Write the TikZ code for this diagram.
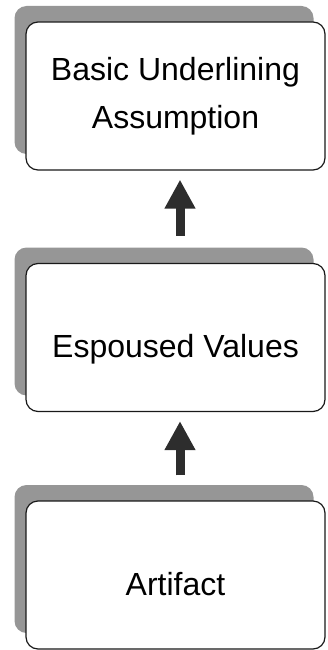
\documentclass[tikz,border=0pt]{standalone}
\usepackage{fontspec}
\setmainfont{Liberation Sans}
\usetikzlibrary{arrows.meta,shadows}

\begin{document}
\begin{tikzpicture}[x=1pt,y=1pt,yscale=-1,xscale=1,
  level/.style={draw={rgb, 255:red, 25; green, 25; blue, 25}, line width=1.2pt, rounded corners=12pt, fill=white, minimum width=299pt, minimum height=148pt, inner sep=0pt, align=center, font=\fontsize{32}{48}\selectfont, general shadow={fill={rgb, 255:red, 150; green, 150; blue, 150}, shadow xshift=-11.5pt, shadow yshift=16pt}},
  lowtext/.style={text height=40pt, text depth=0pt},
  uparrow/.style={draw={rgb, 255:red, 45; green, 45; blue, 45}, line width=9pt, -{Triangle[width=29pt 0,length=29pt 0]}}]
%set diagram left start at 0, and has height of 650
\useasboundingbox (0,0) rectangle (327,650);

%Shape: Rounded Rect [id:top]
\node [level] (basic) at (175.5,96) {Basic Underlining\\Assumption};
%Shape: Rounded Rect [id:middle]
\node [level, lowtext] (espoused) at (175.5,337.5) {Espoused Values};
%Shape: Rounded Rect [id:bottom]
\node [level, lowtext] (artifact) at (175.5,575) {Artifact};

%Straight Lines [id:up1]
\draw [uparrow, shorten <=27pt, shorten >=9pt] ([xshift=4.5pt]espoused.north) -- ([xshift=4.5pt]basic.south);
%Straight Lines [id:up2]
\draw [uparrow, shorten <=25pt, shorten >=9pt] ([xshift=4.5pt]artifact.north) -- ([xshift=4.5pt]espoused.south);

\end{tikzpicture}
\end{document}
